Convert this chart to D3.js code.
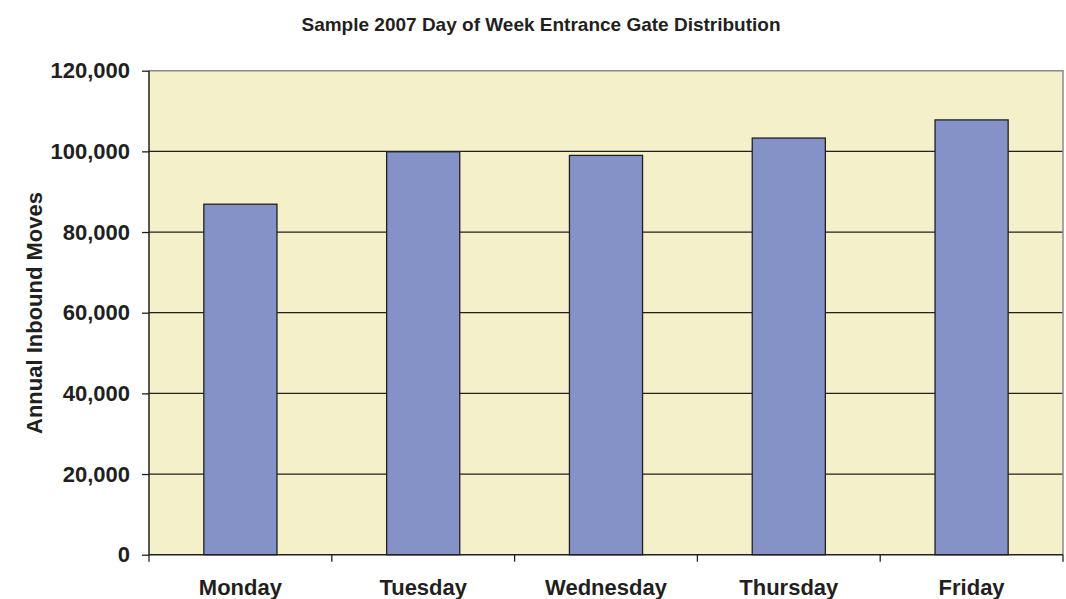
<!DOCTYPE html>
<html>
  <head>
    <script src="https://d3js.org/d3.v7.min.js"></script>
    <style>
      body { margin: 0; background: #fff; }
      text { font-family: 'Liberation Sans', Arial, sans-serif; font-weight: bold; fill: #231f20; }
    </style>
  </head>
  <body>
    <svg id="chart" width="1066" height="599"></svg>
  </body>
  <script>
    // data
    const days = ['Monday', 'Tuesday', 'Wednesday', 'Thursday', 'Friday']
    const moves = [86900, 99900, 99000, 103300, 107800]
    const yTicks = [0, 20000, 40000, 60000, 80000, 100000, 120000]

    const title = 'Sample 2007 Day of Week Entrance Gate Distribution'
    const yTitle = 'Annual Inbound Moves'

    const margin = { top: 70.7, right: 3, bottom: 44.3, left: 149 }
    const svg = d3.select('#chart')
    const width = +svg.attr('width') - margin.left - margin.right
    const height = +svg.attr('height') - margin.top - margin.bottom

    const g = svg.append('g').attr('transform', `translate(${margin.left}, ${margin.top})`)

    // excel-ish gap width of 150%
    const x = d3.scaleBand().domain(days).range([0, width]).paddingInner(0.6).paddingOuter(0.3)
    const y = d3.scaleLinear().domain([0, 120000]).range([height, 0])

    // plot area
    g.append('rect')
      .attr('width', width).attr('height', height)
      .attr('fill', '#f4f0c9')

    // gridlines
    g.append('g').selectAll('line').data(yTicks.filter(d => d > 0 && d < 120000))
      .join('line')
        .attr('x1', 0).attr('x2', width)
        .attr('y1', d => y(d)).attr('y2', d => y(d))
        .attr('stroke', '#231f20').attr('stroke-width', 1.3)

    // top and right border, grey
    g.append('path')
      .attr('d', `M0,0H${width}V${height}`)
      .attr('fill', 'none').attr('stroke', '#8a8a8a').attr('stroke-width', 1.5)

    // bars
    g.append('g').selectAll('rect').data(days)
      .join('rect')
        .attr('x', d => x(d))
        .attr('width', x.bandwidth())
        .attr('y', (d, i) => y(moves[i]))
        .attr('height', (d, i) => height - y(moves[i]))
        .attr('fill', '#8592c8')
        .attr('stroke', '#231f20').attr('stroke-width', 1.3)

    // y axis
    const yAxis = g.append('g')
      .call(d3.axisLeft(y).tickValues(yTicks).tickSize(7).tickPadding(12).tickFormat(d3.format(',')))
    yAxis.select('.domain').remove()
    yAxis.selectAll('line').attr('stroke', '#231f20').attr('stroke-width', 1.3)
    yAxis.selectAll('text').attr('font-size', 22).attr('font-family', null)

    g.append('line')
      .attr('x1', 0).attr('x2', 0).attr('y1', 0).attr('y2', height)
      .attr('stroke', '#231f20').attr('stroke-width', 1.5)

    // x axis
    const xAxis = g.append('g').attr('transform', `translate(0, ${height})`)
      .call(d3.axisBottom(x).tickSize(0).tickPadding(25))
    xAxis.select('.domain').remove()
    xAxis.selectAll('text').attr('font-size', 22).attr('font-family', null)

    g.append('line')
      .attr('x1', 0).attr('x2', width).attr('y1', height).attr('y2', height)
      .attr('stroke', '#231f20').attr('stroke-width', 1.5)

    // category boundary ticks
    const bounds = days.map(d => x(d) - x.step() * 0.3).concat([width])
    g.append('g').selectAll('line').data(bounds)
      .join('line')
        .attr('x1', d => d).attr('x2', d => d)
        .attr('y1', height).attr('y2', height + 7)
        .attr('stroke', '#231f20').attr('stroke-width', 1.3)

    // titles
    svg.append('text')
      .attr('x', 541).attr('y', 31)
      .attr('text-anchor', 'middle')
      .attr('font-size', 19)
      .text(title)

    svg.append('text')
      .attr('transform', `translate(42, ${313}) rotate(-90)`)
      .attr('text-anchor', 'middle')
      .attr('font-size', 22)
      .text(yTitle)
  </script>
</html>
